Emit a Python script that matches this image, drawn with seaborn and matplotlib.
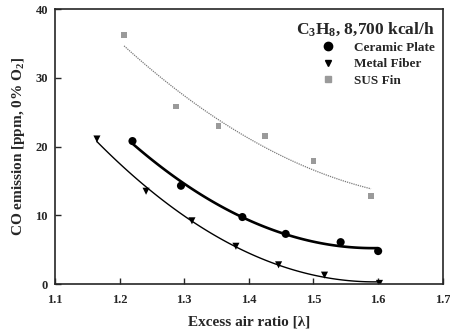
import numpy as np
import pandas as pd
import matplotlib
matplotlib.use("Agg")
import matplotlib.pyplot as plt
import seaborn as sns

# datos leidos da figura
ceramic_x = [1.22, 1.295, 1.39, 1.457, 1.542, 1.60]
ceramic_y = [20.8, 14.3, 9.75, 7.3, 6.1, 4.8]
metal_x = [1.165, 1.241, 1.312, 1.38, 1.446, 1.517, 1.602]
metal_y = [21.1, 13.5, 9.2, 5.5, 2.8, 1.3, 0.1]
sus_x = [1.207, 1.287, 1.353, 1.425, 1.50, 1.589]
sus_y = [36.2, 25.8, 23.0, 21.5, 17.9, 12.8]

SERIES = [
    ("Ceramic Plate", ceramic_x, ceramic_y, "o", "black", 34, dict(color="black", lw=1.9, ls="-")),
    ("Metal Fiber", metal_x, metal_y, "v", "black", 26, dict(color="black", lw=1.0, ls="-")),
    ("SUS Fin", sus_x, sus_y, "s", "#9a9a9a", 16, dict(color="#7a7a7a", lw=0.9, ls=(0, (1, 0.8)))),
]

sns.set_style("ticks")
plt.rcParams["font.family"] = ["Liberation Serif", "DejaVu Serif"]
plt.rcParams["mathtext.fontset"] = "custom"
plt.rcParams["mathtext.rm"] = "Liberation Serif:bold"
plt.rcParams["mathtext.it"] = "Liberation Serif:bold"
plt.rcParams["mathtext.bf"] = "Liberation Serif:bold"

fig = plt.figure(figsize=(4.5, 3.35), dpi=100)
ax = fig.add_axes([0.122, 0.152, 0.862, 0.821])

for nome, xs, ys, mk, cor, tam, linha in SERIES:
    df = pd.DataFrame({"x": xs, "y": ys})
    sns.regplot(data=df, x="x", y="y", order=2, ci=None, ax=ax, marker=mk,
                scatter_kws=dict(color=cor, s=tam, edgecolor="none", alpha=1),
                line_kws=linha, label=nome)

ax.set_xlim(1.1, 1.7)
ax.set_ylim(0, 40)
ax.set_xticks(np.arange(1.1, 1.71, 0.1))
ax.set_xticklabels([f"{v:.1f}" for v in np.arange(1.1, 1.71, 0.1)])
ax.set_yticks([0, 10, 20, 30, 40])
ax.tick_params(direction="in", length=4, width=1, labelsize=9)
ax.tick_params(axis="x", pad=7)
ax.tick_params(axis="y", pad=5)
for lab in ax.get_xticklabels() + ax.get_yticklabels():
    lab.set_fontweight("bold")
for s in ax.spines.values():
    s.set_linewidth(1.2)

ax.set_xlabel("Excess air ratio [λ]", fontsize=11, fontweight="bold", labelpad=7)
ax.set_ylabel("CO emission [ppm, 0% O$_2$]", fontsize=11, fontweight="bold", labelpad=6)

handles = [
    plt.Line2D([], [], marker="o", color="black", ls="none", markersize=6),
    plt.Line2D([], [], marker="v", color="black", ls="none", markersize=5),
    plt.Line2D([], [], marker="s", color="#9a9a9a", ls="none", markersize=4),
]
leg = ax.legend(handles, [s[0] for s in SERIES], loc="upper right",
                bbox_to_anchor=(1.0, 0.99),
                title="C$_3$H$_8$, 8,700 kcal/h", frameon=False,
                prop=dict(weight="bold", size=9.5), handlelength=1.2,
                handletextpad=1.4, labelspacing=0.32, borderaxespad=0.2)
leg.get_title().set_fontsize(12.5)
leg.get_title().set_fontweight("bold")
leg._legend_box.align = "right"
leg._legend_box.sep = 3

fig.savefig("out.png", dpi=100)
